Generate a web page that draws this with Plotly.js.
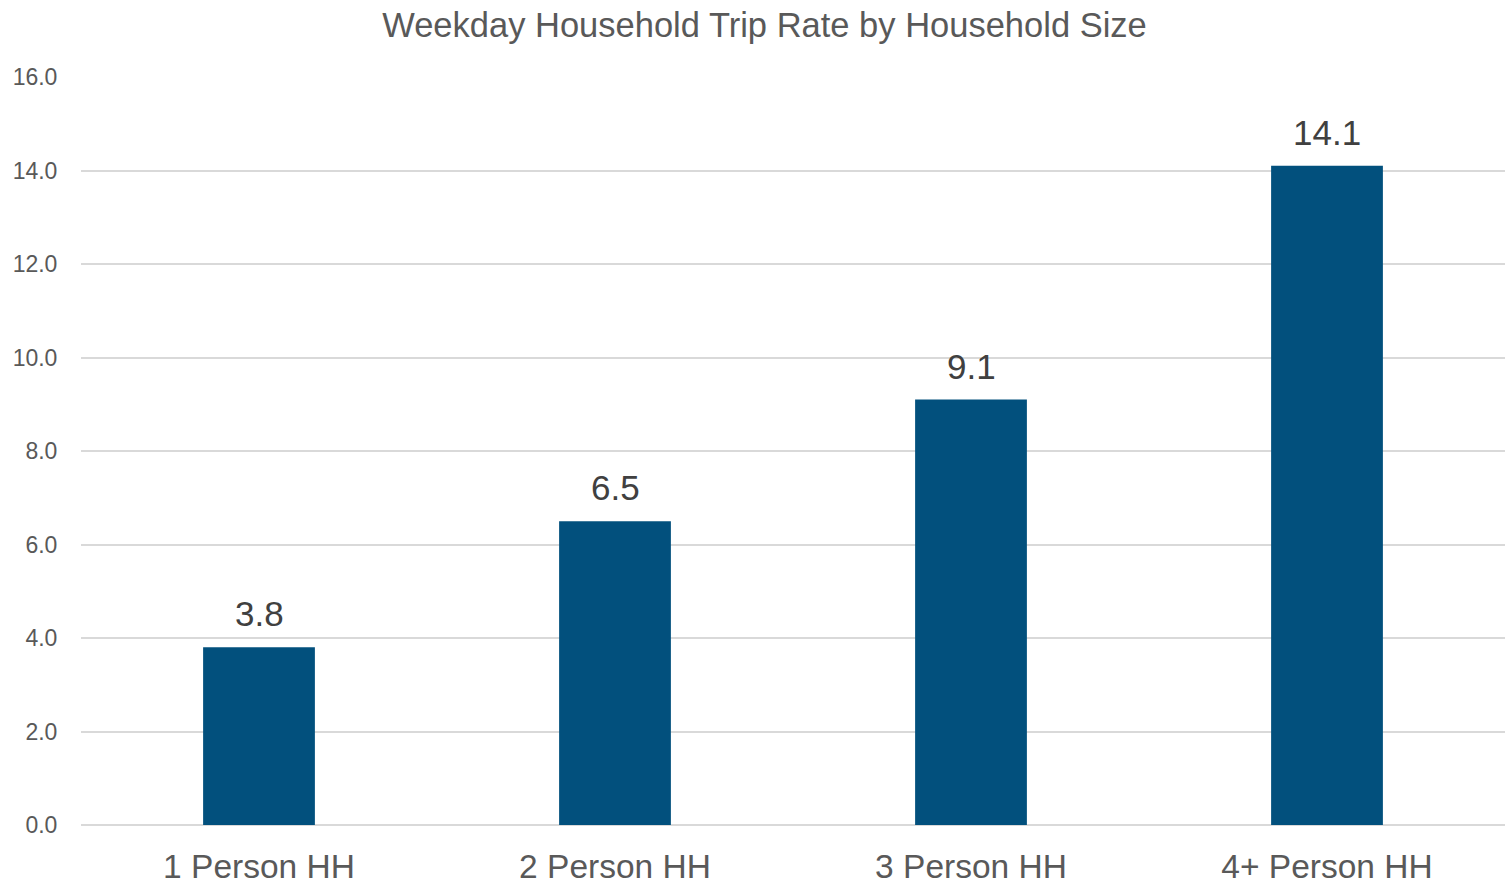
<!DOCTYPE html>
<html>
<head>
<meta charset="utf-8">
<script src="https://cdn.plot.ly/plotly-3.0.1.min.js"></script>
<style>html,body{margin:0;padding:0;background:#fff;}#chart{width:1505px;height:887px;}</style>
</head>
<body>
<div id="chart"></div>
<script>
const categories = ["1 Person HH", "2 Person HH", "3 Person HH", "4+ Person HH"];
const tripRates = [3.8, 6.5, 9.1, 14.1];
const yTickValues = [0, 2, 4, 6, 8, 10, 12, 14, 16];
const yTickLabels = ["0.0", "2.0", "4.0", "6.0", "8.0", "10.0", "12.0", "14.0", "16.0"];
const chartTitle = "Weekday Household Trip Rate by Household Size";

const FONT = "Liberation Sans, Arial, sans-serif";

const trace = {
  type: "bar",
  x: categories,
  y: tripRates,
  marker: { color: "#02507D" },
  hoverinfo: "none",
  cliponaxis: false
};

const annotations = categories.map((c, i) => ({
  x: c,
  y: tripRates[i],
  xref: "x",
  yref: "y",
  text: tripRates[i].toFixed(1),
  showarrow: false,
  yanchor: "bottom",
  yshift: 12,
  font: { family: FONT, size: 35, color: "#404040" }
}));

const layout = {
  width: 1505,
  height: 887,
  margin: { l: 81, r: 0, t: 77, b: 62 },
  paper_bgcolor: "#ffffff",
  plot_bgcolor: "#ffffff",
  showlegend: false,
  bargap: 0.686,
  title: {
    text: chartTitle,
    font: { family: FONT, size: 34.5, color: "#595959" },
    x: 0.48,
    xref: "paper",
    xanchor: "center",
    y: 0.972,
    yanchor: "middle"
  },
  xaxis: {
    type: "category",
    showgrid: false,
    zeroline: false,
    showline: false,
    ticks: "outside",
    ticklen: 12,
    tickcolor: "rgba(0,0,0,0)",
    tickfont: { family: FONT, size: 33.5, color: "#595959" },
    fixedrange: true
  },
  yaxis: {
    range: [0, 16],
    tickmode: "array",
    tickvals: yTickValues,
    ticktext: yTickLabels,
    showgrid: true,
    gridcolor: "#D9D9D9",
    gridwidth: 2,
    zeroline: true,
    zerolinecolor: "#D9D9D9",
    zerolinewidth: 2,
    showline: false,
    ticks: "outside",
    ticklen: 18,
    tickcolor: "rgba(0,0,0,0)",
    tickfont: { family: FONT, size: 23, color: "#595959" },
    fixedrange: true
  },
  annotations: annotations
};

Plotly.newPlot("chart", [trace], layout, { displayModeBar: false, staticPlot: true });
</script>
</body>
</html>
